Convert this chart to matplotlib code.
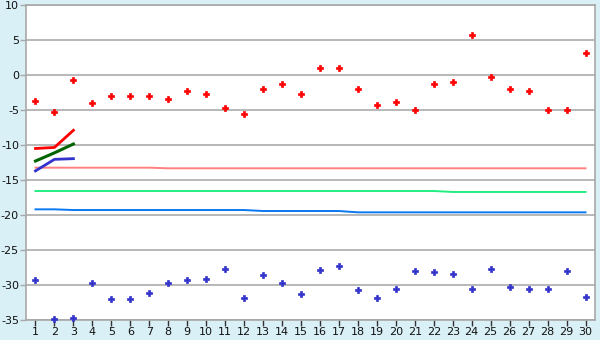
import matplotlib
matplotlib.use("Agg")
import matplotlib.pyplot as plt
import numpy as np

x = list(range(1, 31))
red_pts = [-3.76, -5.33, -0.76, -4.05, -3.05, -3.05, -3.05, -3.48, -2.33, -2.76,
           -4.76, -5.62, -2.05, -1.33, -2.76, 0.95, 0.95, -2.05, -4.33, -3.9,
           -5.05, -1.33, -1.05, 5.67, -0.33, -2.05, -2.33, -5.05, -5.05, 3.1]
blue_pts = [-29.33, -34.9, -34.76, -29.76, -32.05, -32.05, -31.19, -29.76, -29.33, -29.19,
            -27.76, -31.9, -28.62, -29.76, -31.33, -27.9, -27.33, -30.76, -31.9, -30.62,
            -28.05, -28.19, -28.48, -30.62, -27.76, -30.33, -30.62, -30.62, -28.05, -31.76]

short_x = [1, 2, 3]
red_line = [-10.5, -10.35, -7.9]
green_line = [-12.29, -11.12, -9.86]
blue_line = [-13.7, -12.05, -11.95]

pink_h = [-13.24]*7 + [-13.33]*23
lgreen_h = [-16.57]*22 + [-16.71]*8
lblue_h = [-19.19]*2 + [-19.29]*10 + [-19.43]*5 + [-19.62]*13

yticks = list(range(-35, 11, 5))

fig = plt.figure(figsize=(6, 3.4), dpi=100)
fig.patch.set_facecolor('#D9F0F6')
ax = fig.add_axes([26/600, 20/340, 569/600, 315/340])
ax.set_facecolor('white')

for yv in yticks:
    ax.axhline(yv, color='#ABABAB', lw=1.2, zorder=1)

ax.plot(x, pink_h, color='#FF8080', lw=1.4, zorder=2)
ax.plot(x, lgreen_h, color='#22EE80', lw=1.4, zorder=2)
ax.plot(x, lblue_h, color='#0A78F0', lw=1.4, zorder=2)

ax.plot(short_x, red_line, color='#FF0000', lw=2, zorder=3)
ax.plot(short_x, green_line, color='#006400', lw=2.2, zorder=3)
ax.plot(short_x, blue_line, color='#3333CC', lw=2, zorder=3)

ax.plot(x, red_pts, linestyle='none', marker='P', markersize=5,
        color='#FF0000', markeredgewidth=0.5, zorder=4, clip_on=False)
ax.plot(x, blue_pts, linestyle='none', marker='P', markersize=5,
        color='#3333CC', markeredgewidth=0.5, zorder=4, clip_on=False)

ax.set_xlim(0.5, 30.5)
ax.set_ylim(-35, 10)
ax.set_xticks(x)
ax.set_xticklabels([str(v) for v in x])
ax.set_yticks(yticks)
ax.set_yticklabels([str(v) for v in yticks])

for s in ax.spines.values():
    s.set_color('#A8A8A8')
    s.set_linewidth(1.2)

ax.tick_params(axis='x', direction='out', length=4, width=1, color='#333333',
               labelsize=8, pad=1, labelcolor='#111111')
ax.tick_params(axis='y', direction='out', length=4, width=1, color='#A8A8A8',
               labelsize=8, pad=1, labelcolor='#111111')

fig.savefig('out.png', dpi=100, facecolor=fig.get_facecolor())
